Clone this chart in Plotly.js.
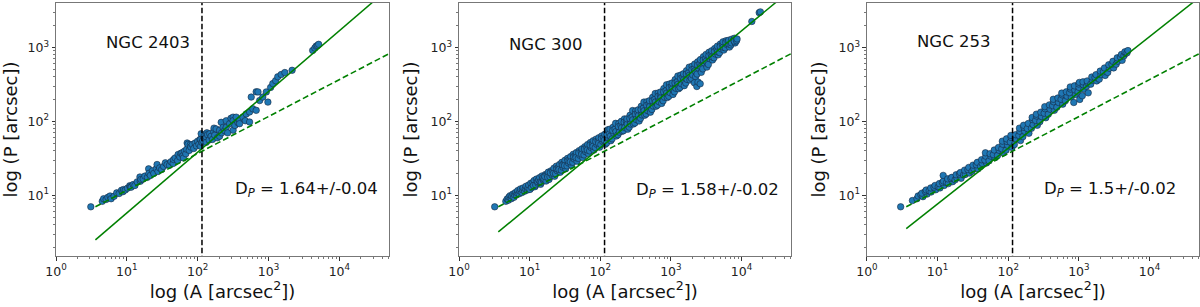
<!DOCTYPE html>
<html>
<head>
<meta charset="utf-8">
<script src="https://cdn.plot.ly/plotly-3.0.1.min.js"></script>
<style>
html,body{margin:0;padding:0;background:#ffffff;}
#chart{width:1200px;height:307px;}
</style>
</head>
<body>
<div id="chart"></div>
<script>
// ---------- labels ----------
const galaxies = ['NGC 2403', 'NGC 300', 'NGC 253'];
const dpLabels = ['1.64+/-0.04', '1.58+/-0.02', '1.5+/-0.02'];
const xTickVals = [1, 10, 100, 1000, 10000];
const xTickText = ['10<sup>0</sup>', '10<sup>1</sup>', '10<sup>2</sup>', '10<sup>3</sup>', '10<sup>4</sup>'];
const yTickVals = [10, 100, 1000];
const yTickText = ['10<sup>1</sup>', '10<sup>2</sup>', '10<sup>3</sup>'];
const xTitle = 'log (A [arcsec<sup>2</sup>])';
const yTitle = 'log (P [arcsec])';

// ---------- NGC 2403 : area A, perimeter P ----------
const ngc2403_A = [
3.1, 4.5, 4.7, 5.1, 5.4, 5.8, 6.0, 6.6, 7.2, 7.8,
8.4, 8.8, 9.0, 9.5, 10.2, 11.0, 11.2, 11.5, 12.3, 13.0,
14.0, 15.3, 15.5, 15.8, 17.0, 18.0, 19.5, 20.3, 20.5, 21.5,
23.0, 24.0, 26.0, 26.7, 27.5, 29.0, 31.0, 33.0, 35.0, 37.0,
40.0, 42.0, 45.0, 45.7, 48.0, 52.0, 53.0, 56.0, 58.0, 60.0,
62.0, 63.0, 65.0, 68.0, 70.0, 71.0, 73.0, 76.0, 79.0, 80.0,
84.0, 88.0, 92.0, 96.0, 100, 104, 108, 110, 110, 112,
115, 118, 122, 126, 132, 132, 135, 138, 145, 148,
155, 162, 168, 170, 174, 182, 190, 204, 204, 215,
218, 228, 240, 253, 253, 265, 282, 295, 316, 316,
316, 335, 350, 370, 390, 390, 435, 470, 485, 540,
540, 570, 600, 670, 670, 710, 750, 830, 930, 980,
1070, 1150, 1260, 1350, 1510, 1700, 2150, 4200, 4500, 4700,
4900, 5100
];
const ngc2403_P = [
7.0, 8.3, 9.0, 8.8, 9.4, 9.8, 9.0, 9.7, 10.8, 10.6,
11.7, 11.2, 12.0, 11.8, 12.5, 13.5, 13.1, 12.9, 14.0, 13.6,
15.2, 17.7, 15.5, 16.4, 16.6, 18.2, 17.5, 22.8, 19.8, 18.6,
21.5, 19.8, 22.9, 26.1, 21.0, 23.5, 22.3, 24.6, 27.5, 26.0,
25.5, 28.5, 27.0, 30.5, 32.0, 29.5, 35.7, 33.0, 37.0, 37.5,
34.5, 32.0, 39.5, 36.5, 42.0, 51.0, 49.0, 40.5, 48.5, 45.0,
48.5, 43.0, 51.0, 46.5, 54.0, 49.0, 57.0, 56.7, 46.0, 68.0,
52.0, 55.0, 62.0, 58.0, 61.0, 52.0, 70.0, 66.0, 56.0, 68.0,
63.0, 57.0, 73.0, 81.0, 65.0, 79.0, 60.0, 76.0, 63.0, 97.0,
70.0, 83.0, 75.0, 102, 83.0, 70.0, 93.0, 110, 114, 102,
76.0, 88.0, 114, 96.0, 102, 93.0, 114, 102, 126, 134,
98.0, 213, 148, 141, 251, 250, 191, 213, 250, 182,
288, 324, 355, 400, 430, 457, 490, 910, 980, 1040,
1060, 1100
];

// ---------- NGC 300 ----------
const ngc300_A = [
3.2,
4.6, 4.8,
5.0, 5.1, 5.3,
5.5, 5.6, 5.8,
6.0, 6.1, 6.3,
6.5, 6.7, 6.8,
7.1, 7.3, 7.4,
7.8, 7.9, 8.1,
8.5, 8.7, 8.9,
9.3, 9.5, 9.7,
10.1, 10.9, 10.4, 10.7,
11.9, 11.1, 11.6, 11.3,
12.2, 13.1, 12.5, 12.9,
14.3, 13.4, 13.9, 14.1,
14.7, 15.6, 15.0, 15.4,
16.0, 17.1, 16.8, 16.4,
18.8, 17.7, 18.4, 18.0,
19.4, 20.7, 20.2, 19.7,
22.6, 21.3, 22.1, 21.7,
23.3, 24.6, 23.9, 24.3,
27.1, 25.7, 26.6, 26.0,
28.1, 29.6, 28.6, 29.1,
32.4, 30.8, 31.7, 31.2,
33.8, 35.5, 34.5, 35.0,
38.9, 37.2, 38.2, 37.6,
40.8, 42.7, 41.5, 42.1,
46.8, 44.8, 45.9, 45.3,
48.9, 51.3, 50.3, 49.6,
56.3, 53.8, 55.2, 54.6,
58.9, 61.8, 60.5, 59.8,
67.7, 64.6, 66.3, 65.5,
70.7, 74.1, 72.6, 71.8,
81.3, 77.6, 79.6, 78.8,
85.0, 89.2, 87.3, 86.4,
97.8, 93.3, 95.8, 94.8,
102, 108, 105, 104,
118, 112, 116, 114,
123, 129, 126, 125, 128,
141, 135, 139, 137,
147, 155, 152, 150,
170, 162, 167, 165,
178, 186, 183, 181, 187,
205, 196, 201, 199,
214, 224, 220, 218, 223,
246, 235, 241, 239,
257, 269, 264, 262, 268,
295, 282, 289, 287,
309, 323, 317, 315, 322,
355, 340, 348, 345,
372, 389, 381, 378, 388,
427, 408, 418, 415,
447, 467, 458, 455, 466,
513, 491, 502, 498,
538, 563, 551, 548, 561,
617, 590, 604, 600,
647, 676, 662, 658, 675,
741, 709, 725, 721,
777, 812, 795, 790, 811,
891, 853, 872, 867,
935, 977, 956, 951, 975,
1071, 1025, 1048, 1043,
1124, 1175, 1150, 1143, 1173,
1288, 1232, 1261, 1254,
1351, 1412, 1382, 1375, 1410,
1549, 1482, 1516, 1508,
1625, 1698, 1662, 1654, 1696,
1862, 1781, 1823, 1813,
1953, 2041, 1998, 1988, 2039,
2239, 2142, 2191, 2180, 2150,
2348, 2455, 2402, 2390, 2330, 2420,
2691, 2574, 2634, 2620, 2600,
2823, 2951, 2888, 2874,
3235, 3095, 3167, 3151,
3394, 3547, 3472, 3455,
3890, 3721, 3807, 3789,
4081, 4265, 4175, 4155,
4677, 4474, 4577, 4555,
4906, 5128, 5019, 4995,
5622, 5379, 5503, 5476,
5899, 6165, 6034, 6005,
6760, 6467, 6616, 6584,
7091, 7411, 7254, 7219,
8126, 7775, 7954, 7915,
8500, 8650,
14000, 17800, 18500
];
const ngc300_P = [
7.0,
8.3, 8.9,
8.6, 9.5, 9.9,
9.0, 9.8, 10.4,
9.4, 10.2, 10.9,
10.1, 10.7, 11.6,
10.5, 11.4, 12.2,
10.9, 11.9, 12.6,
11.4, 12.3, 13.3,
11.8, 12.6, 13.8,
12.0, 13.9, 14.6, 12.7,
13.1, 14.9, 15.9, 13.6,
13.8, 14.6, 16.6, 15.4,
14.1, 16.2, 17.4, 15.2,
15.0, 16.1, 18.3, 17.3,
16.6, 15.6, 19.2, 18.0,
16.4, 18.9, 20.6, 17.6,
17.8, 18.8, 21.5, 20.2,
18.1, 21.0, 23.3, 19.8,
19.6, 21.5, 24.8, 23.0,
20.5, 23.8, 26.2, 22.4,
21.9, 24.0, 27.9, 25.9,
22.9, 26.9, 29.8, 25.2,
25.0, 27.3, 31.6, 29.6,
25.7, 30.5, 33.4, 28.3,
28.0, 31.0, 35.9, 33.4,
29.0, 34.6, 37.8, 32.3,
31.6, 34.8, 40.2, 37.4,
32.5, 38.8, 42.5, 36.0,
35.2, 39.0, 45.5, 42.3,
36.8, 44.0, 48.6, 41.0,
39.9, 44.3, 51.8, 47.9,
40.9, 49.5, 54.8, 46.0,
44.2, 49.0, 57.5, 53.2,
44.8, 54.3, 60.2, 50.6,
48.6, 53.7, 63.5, 58.5,
49.0, 59.8, 66.8, 55.5,
51.0, 60.4, 72.5, 65.8, 77.0,
54.8, 68.5, 63.0, 78.5,
58.0, 69.2, 83.5, 75.3,
63.5, 78.6, 73.0, 94.0,
66.0, 77.8, 93.5, 84.9, 71.5,
73.5, 88.2, 81.8, 100,
75.0, 89.6, 108, 97.5, 82.5,
78.5, 99.0, 91.8, 108,
83.5, 100, 121, 109, 92.0,
92.0, 114, 105, 140,
95.0, 115, 138, 125, 106,
101, 131, 120, 143,
110, 132, 160, 144, 122,
121, 151, 139, 182,
126, 152, 184, 165, 140,
133, 172, 159, 190,
145, 174, 211, 190, 161,
160, 198, 183, 238,
166, 200, 242, 218, 185,
175, 227, 210, 250,
190, 229, 278, 250, 212,
210, 260, 241, 312,
218, 263, 320, 287, 244,
231, 298, 276, 330,
251, 302, 367, 330, 280,
276, 343, 318, 410,
288, 347, 422, 379, 322,
304, 394, 365, 440,
330, 398, 484, 435, 369,
362, 453, 420, 540,
380, 457, 556, 500, 424,
401, 519, 481, 596, 332,
436, 525, 638, 574, 296, 340,
460, 596, 552, 684, 322,
512, 617, 750, 674,
541, 700, 649, 804,
588, 708, 860, 773,
676, 804, 745, 900,
724, 814, 965, 880,
793, 945, 876, 1040,
850, 956, 1110, 1030,
920, 1085, 1005, 1190,
985, 1098, 1230, 1160,
1010, 1190, 1110, 1250,
1080, 1200, 1290, 1150,
1150, 1260, 1330, 1210,
1230, 1300,
2240, 2950, 3020
];

// ---------- NGC 253 ----------
const ngc253_A = [
3.0,
4.4,
5.1, 5.3,
5.8, 6.2, 6.0,
7.1, 6.7, 6.9,
7.6, 8.1, 8.0,
9.4, 8.9, 9.2,
10.2, 10.8, 10.6,
12.4, 11.7, 12.1, 12.0,
13.4, 14.2, 13.9,
16.3, 15.4, 15.9,
17.7, 18.7, 18.3,
21.5, 20.4, 21.0,
23.3, 24.7, 24.1,
28.3, 26.8, 27.6,
30.7, 32.5, 31.7,
37.3, 35.3, 36.5,
40.6, 42.9, 41.9,
49.2, 46.6, 48.1, 47.5,
53.5, 56.5, 55.3,
64.9, 61.4, 63.4,
70.4, 74.4, 72.7,
85.5, 81.0, 83.6, 82.5,
92.9, 98.1, 96.0, 94.5,
113, 107, 110, 109,
122, 130, 127,
149, 141, 146, 144,
161, 171, 167, 165,
196, 186, 192,
213, 225, 220, 218,
258, 244, 252, 250,
280, 296, 289,
340, 322, 333, 329,
369, 391, 382,
449, 425, 439, 434,
487, 515, 504,
591, 559, 578, 572,
642, 680, 665,
780, 738, 763, 755,
846, 896, 876, 866,
1028, 972, 1005, 995, 1015,
1116, 1180, 1154, 1142,
1355, 1281, 1325, 1311,
1471, 1556, 1522,
1787, 1689, 1747,
1939, 2051, 2005,
2355, 2227, 2303,
2556, 2704, 2644,
3104, 2935, 3036,
3370, 3564, 3485,
4092, 3870, 4002,
4342, 4592, 4490,
4800, 4950
];
const ngc253_P = [
7.0,
8.5,
9.0, 9.8,
10.2, 9.6, 10.7,
10.4, 11.3, 11.8,
11.5, 11.1, 12.6,
11.9, 12.9, 13.6,
13.0, 12.6, 14.4,
13.6, 14.9, 15.6, 18.6,
14.9, 14.4, 16.7,
15.3, 16.9, 17.5,
16.2, 17.3, 19.0,
17.0, 19.4, 20.3,
18.9, 19.2, 21.9,
20.0, 22.3, 23.8,
21.2, 23.0, 25.6,
22.8, 25.9, 27.9,
24.6, 27.0, 30.3,
27.4, 30.0, 33.8, 37.6,
29.3, 33.9, 36.5,
32.2, 35.5, 41.0,
34.6, 40.6, 44.3,
37.5, 42.5, 49.0, 54.0,
40.8, 47.5, 53.5, 58.0,
44.5, 52.5, 60.5, 64.5,
48.5, 57.5, 66.0,
55.0, 64.5, 73.5, 81.0,
62.0, 73.5, 83.0, 88.5,
69.0, 80.0, 93.5,
80.5, 90.5, 106, 113,
88.5, 103, 118, 125,
99.0, 116, 133,
112, 129, 148, 158,
125, 146, 167,
141, 163, 184, 199,
155, 180, 207,
171, 199, 228, 241,
190, 219, 251,
213, 244, 273, 292,
180, 231, 266, 302,
198, 250, 288, 320, 336,
222, 272, 312, 342,
243, 298, 333, 352,
318, 360, 398,
352, 392, 428,
372, 428, 478,
418, 468, 527,
458, 522, 582,
528, 592, 648,
592, 650, 722,
668, 742, 802,
768, 830, 872,
845, 905
];

// ---------- fitted power laws and break ----------
const fitA = [3.6, 50000];
const ngc2403_fitP = [2.5, 6300];
const ngc300_fitP = [3.2, 5970];
const ngc253_fitP = [3.55, 4700];
const refA = [3.6, 50000];
const refP = [7.0, 820];
const breakA = [115, 115];
const breakP = [1, 100000];

// ---------- build ----------
const F = 'DejaVu Sans, Liberation Sans, sans-serif';
const panels = [
  {A: ngc2403_A, P: ngc2403_P, fit: ngc2403_fitP, name: galaxies[0], dp: dpLabels[0], dom: [0, 0.2913], nx: 1.30, ny: 3.06, dx: 3.54, dy: 1.08},
  {A: ngc300_A,  P: ngc300_P,  fit: ngc300_fitP,  name: galaxies[1], dp: dpLabels[1], dom: [0.3526, 0.6430], nx: 1.23, ny: 3.04, dx: 3.52, dy: 1.06},
  {A: ngc253_A,  P: ngc253_P,  fit: ngc253_fitP,  name: galaxies[2], dp: dpLabels[2], dom: [0.7095, 1.0], nx: 1.22, ny: 3.08, dx: 3.44, dy: 1.08}
];

function minorTicks(lo, hi) {
  const out = [];
  for (let d = lo; d <= hi; d *= 10) {
    for (let k = 2; k <= 9; k++) out.push(k * d);
  }
  return out;
}
const xMinor = minorTicks(1, 10000);
const yMinor = minorTicks(1, 1000);

const traces = [];
const layout = {
  width: 1200, height: 307,
  margin: {l: 56, r: 1, t: 3, b: 51},
  paper_bgcolor: '#ffffff', plot_bgcolor: '#ffffff',
  showlegend: false,
  font: {family: F, color: '#111'},
  annotations: []
};

panels.forEach((p, i) => {
  const sfx = i === 0 ? '' : String(i + 1);
  const xr = 'x' + sfx, yr = 'y' + sfx;
  traces.push({
    type: 'scatter', mode: 'markers', x: p.A, y: p.P, xaxis: xr, yaxis: yr,
    marker: {size: 6.5, color: '#1f77b4', line: {color: 'rgba(20,35,55,0.8)', width: 0.7}},
    hoverinfo: 'skip'
  });
  traces.push({
    type: 'scatter', mode: 'lines', x: refA, y: refP, xaxis: xr, yaxis: yr,
    line: {color: '#008000', width: 1.6, dash: '6px,3px'}, hoverinfo: 'skip'
  });
  traces.push({
    type: 'scatter', mode: 'lines', x: fitA, y: p.fit, xaxis: xr, yaxis: yr,
    line: {color: '#008000', width: 1.5}, hoverinfo: 'skip'
  });
  traces.push({
    type: 'scatter', mode: 'lines', x: breakA, y: breakP, xaxis: xr, yaxis: yr,
    line: {color: '#000000', width: 1.5, dash: '5.5px,2.5px'}, hoverinfo: 'skip'
  });

  layout['xaxis' + sfx] = {
    type: 'log', domain: p.dom, range: [0, 4.7], anchor: yr,
    tickmode: 'array', tickvals: xTickVals, ticktext: xTickText,
    ticks: 'outside', ticklen: 3.5, tickwidth: 1, tickcolor: '#333',
    minor: {tickmode: 'array', tickvals: xMinor, ticks: 'outside', ticklen: 2, tickwidth: 0.8, tickcolor: '#555', showgrid: false},
    showgrid: false, zeroline: false, showline: true, mirror: true, linecolor: '#777', linewidth: 1,
    tickfont: {family: F, size: 12.5, color: '#222'},
    title: {text: xTitle, font: {family: F, size: 18, color: '#111'}, standoff: 6},
    automargin: false, fixedrange: true
  };
  layout['yaxis' + sfx] = {
    type: 'log', domain: [0, 1], range: [0.18, 3.6], anchor: xr,
    tickmode: 'array', tickvals: yTickVals, ticktext: yTickText,
    ticks: 'outside', ticklen: 3.5, tickwidth: 1, tickcolor: '#333',
    minor: {tickmode: 'array', tickvals: yMinor, ticks: 'outside', ticklen: 2, tickwidth: 0.8, tickcolor: '#555', showgrid: false},
    showgrid: false, zeroline: false, showline: true, mirror: true, linecolor: '#777', linewidth: 1,
    tickfont: {family: F, size: 12.5, color: '#222'},
    title: {text: yTitle, font: {family: F, size: 18, color: '#111'}, standoff: 8},
    automargin: false, fixedrange: true
  };

  layout.annotations.push({
    xref: xr, yref: yr, x: p.nx, y: p.ny, text: p.name, showarrow: false,
    xanchor: 'center', yanchor: 'middle', font: {family: F, size: 16.5, color: '#111'}
  });
  layout.annotations.push({
    xref: xr, yref: yr, x: p.dx, y: p.dy, text: 'D<sub><i>P</i></sub> = ' + p.dp, showarrow: false,
    xanchor: 'center', yanchor: 'middle', font: {family: F, size: 16.5, color: '#111'}
  });
});

Plotly.newPlot('chart', traces, layout, {displayModeBar: false, staticPlot: true});
</script>
</body>
</html>
